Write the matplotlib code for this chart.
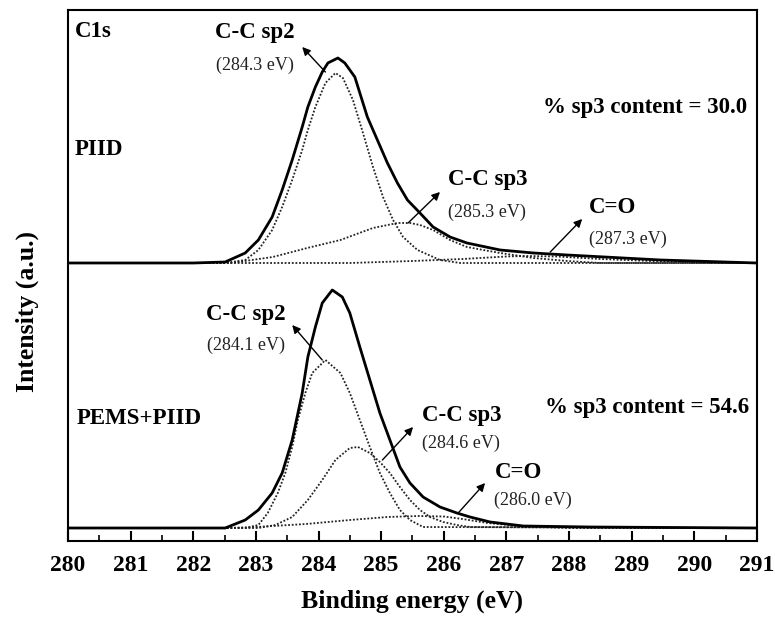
import numpy as np
import matplotlib.pyplot as plt
from matplotlib.ticker import MultipleLocator

plt.rcParams['font.family'] = ['Liberation Serif', 'DejaVu Serif']

# ---- data (binding energy in eV, intensity above each baseline, a.u.) ----
# PIID (upper spectrum)
piid_env_x = [280.0, 282.0, 282.51, 282.83, 283.04, 283.26, 283.42, 283.58, 283.74, 283.83,
              283.95, 284.06, 284.15, 284.31, 284.42, 284.58, 284.78, 284.94, 285.10, 285.26,
              285.42, 285.62, 285.83, 286.10, 286.37, 286.90, 287.43, 287.97, 289.46, 291.0]
piid_env_y = [0, 0, 1, 10, 23, 46, 73, 103, 136, 156,
              176, 191, 200, 205, 200, 186, 146, 123, 100, 80,
              63, 50, 36, 26, 20, 13, 10, 8, 3, 0]

piid_sp2_x = [280.0, 282.5, 282.83, 283.04, 283.26, 283.42, 283.58, 283.74, 283.83, 283.95, 284.11,
              284.27, 284.39, 284.55, 284.71, 284.87, 285.03, 285.19, 285.35, 285.58, 285.94,
              286.26, 291.0]
piid_sp2_y = [0, 0, 3, 13, 33, 56, 83, 113, 133, 156, 180,
              190, 185, 163, 130, 96, 66, 43, 26, 13, 3,
              0, 0]

piid_sp3_x = [280.0, 282.6, 283.27, 283.82, 284.35, 284.87, 285.26, 285.46, 285.62, 285.83,
              286.10, 286.37, 286.63, 286.90, 287.43, 287.97, 288.5, 291.0]
piid_sp3_y = [0, 0, 6, 15, 23, 35, 40, 40, 38, 33,
              23, 16, 13, 10, 5, 2, 0, 0]

piid_co_x = [280.0, 284.5, 285.5, 286.3, 287.0, 287.3, 287.8, 288.5, 289.3, 290.3, 291.0]
piid_co_y = [0, 0, 2, 4, 6.5, 7, 6.5, 4, 2, 0, 0]

# PEMS+PIID (lower spectrum)
pems_env_x = [280.0, 282.0, 282.51, 282.83, 283.04, 283.26, 283.42, 283.58, 283.74, 283.83,
              283.95, 284.06, 284.22, 284.38, 284.50, 284.66, 284.82, 284.98, 285.14, 285.30,
              285.46, 285.67, 285.94, 286.21, 286.42, 286.74, 287.27, 288.34, 291.0]
pems_env_y = [0, 0, 0, 8, 18, 35, 55, 88, 135, 171,
              201, 225, 238, 231, 215, 181, 148, 115, 88, 61,
              45, 31, 21, 15, 11, 6, 2, 1, 0]

pems_sp2_x = [280.0, 282.83, 283.04, 283.19, 283.35, 283.47, 283.58, 283.67, 283.79, 283.90,
              284.11, 284.35, 284.50, 284.66, 284.82, 284.98, 285.14, 285.30, 285.46, 285.67, 291.0]
pems_sp2_y = [0, 0, 3, 15, 35, 55, 81, 108, 135, 155,
              168, 155, 135, 108, 81, 55, 35, 18, 8, 1, 0]

pems_sp3_x = [280.0, 283.04, 283.31, 283.58, 283.83, 284.06, 284.27, 284.50, 284.63, 284.82,
              284.98, 285.14, 285.30, 285.46, 285.62, 285.78, 285.99, 286.21, 286.42, 290.0, 291.0]
pems_sp3_y = [0, 0, 3, 11, 28, 48, 68, 80, 81, 75,
              66, 55, 41, 28, 18, 11, 6, 3, 1, 0, 0]

pems_co_x = [280.0, 282.5, 283.0, 283.8, 284.5, 285.1, 285.6, 286.0, 286.3, 286.7, 287.2, 288.0, 291.0]
pems_co_y = [0, 0, 1, 4, 8, 11, 12, 11.5, 9, 5, 2, 0, 0]

# vertical offsets of the two stacked spectra
off_top = 278
off_bot = 13

fig = plt.figure(figsize=(7.75, 6.24), dpi=100)
ax = fig.add_axes([0.0877, 0.133, 0.889, 0.851])

dot = dict(color='#222222', lw=1.3, ls=(0, (1, 1)))
for xs, ys, off in [(piid_sp2_x, piid_sp2_y, off_top), (piid_sp3_x, piid_sp3_y, off_top),
                    (piid_co_x, piid_co_y, off_top), (pems_sp2_x, pems_sp2_y, off_bot),
                    (pems_sp3_x, pems_sp3_y, off_bot), (pems_co_x, pems_co_y, off_bot)]:
    ax.plot(xs, np.array(ys) + off, **dot)

ax.plot(piid_env_x, np.array(piid_env_y) + off_top, color='k', lw=2, solid_joinstyle='round')
ax.plot(pems_env_x, np.array(pems_env_y) + off_bot, color='k', lw=2, solid_joinstyle='round')

ax.set_xlim(280, 291)
ax.set_ylim(0, 531)
ax.xaxis.set_major_locator(MultipleLocator(1))
ax.xaxis.set_minor_locator(MultipleLocator(0.5))
ax.tick_params(axis='x', which='major', direction='in', length=7, width=1.5, pad=10,
               labelsize=17, top=False)
ax.tick_params(axis='x', which='minor', direction='in', length=4, width=1.2, top=False)
ax.tick_params(axis='y', left=False, labelleft=False)
for lab in ax.get_xticklabels():
    lab.set_fontweight('bold')
for sp in ax.spines.values():
    sp.set_linewidth(1.5)

ax.set_xlabel('Binding energy (eV)', fontsize=18.5, fontweight='bold')
ax.set_ylabel('Intensity (a.u.)', fontsize=18.5, fontweight='bold')
ax.xaxis.set_label_coords(0.5, -0.092)
ax.yaxis.set_label_coords(-0.042, 0.433)

bold = dict(fontsize=16.5, fontweight='bold', va='center')
small = dict(fontsize=13, color='#222222', va='center')
arrow = dict(arrowstyle='-|>', color='k', lw=1, mutation_scale=12, shrinkA=0, shrinkB=0)

# upper panel text
ax.text(280.11, 509, 'C1s', ha='left', **bold)
ax.text(280.11, 391, 'PIID', ha='left', **bold)
ax.text(287.59, 433, '% sp3 content = 30.0', ha='left', **bold)
ax.text(282.99, 508, 'C-C sp2', ha='center', **bold)
ax.text(282.99, 476, '(284.3 eV)', ha='center', **small)
ax.annotate('', xy=(283.74, 494), xytext=(284.11, 469), arrowprops=arrow)
ax.text(286.07, 361, 'C-C sp3', ha='left', **bold)
ax.text(286.07, 329, '(285.3 eV)', ha='left', **small)
ax.annotate('', xy=(285.94, 349), xytext=(285.43, 318), arrowprops=arrow)
ax.text(288.32, 333, 'C=O', ha='left', **bold)
ax.text(288.32, 302, '(287.3 eV)', ha='left', **small)
ax.annotate('', xy=(288.21, 322), xytext=(287.70, 289), arrowprops=arrow)

# lower panel text
ax.text(280.14, 123, 'PEMS+PIID', ha='left', **bold)
ax.text(287.62, 134, '% sp3 content = 54.6', ha='left', **bold)
ax.text(282.84, 226, 'C-C sp2', ha='center', **bold)
ax.text(282.84, 196, '(284.1 eV)', ha='center', **small)
ax.annotate('', xy=(283.58, 216), xytext=(284.06, 181), arrowprops=arrow)
ax.text(285.65, 126, 'C-C sp3', ha='left', **bold)
ax.text(285.65, 98, '(284.6 eV)', ha='left', **small)
ax.annotate('', xy=(285.51, 114), xytext=(285.02, 81), arrowprops=arrow)
ax.text(286.82, 69, 'C=O', ha='left', **bold)
ax.text(286.80, 41, '(286.0 eV)', ha='left', **small)
ax.annotate('', xy=(286.66, 58), xytext=(286.23, 28), arrowprops=arrow)

fig.savefig('out.png', dpi=100)
